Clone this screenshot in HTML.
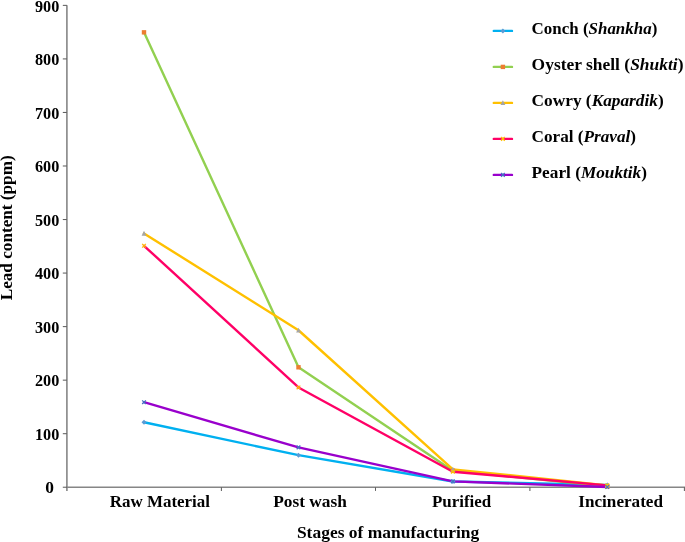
<!DOCTYPE html>
<html><head><meta charset="utf-8"><style>
html,body{margin:0;padding:0;background:#fff;}
svg{display:block;will-change:transform;}
text{font-family:"Liberation Serif",serif;font-weight:bold;fill:#000;}
</style></head><body>
<svg width="685" height="542" viewBox="0 0 685 542">
<g stroke="#868686" stroke-width="1.6" fill="none">
<path d="M66.9 5.2V490.9"/>
<path d="M66 487.23H685"/>
</g>
<g stroke="#606060" stroke-width="1.05" fill="none">
<path d="M62.8 487.23H66.9"/>
<path d="M62.8 433.69H66.9"/>
<path d="M62.8 380.15H66.9"/>
<path d="M62.8 326.61H66.9"/>
<path d="M62.8 273.07H66.9"/>
<path d="M62.8 219.53H66.9"/>
<path d="M62.8 165.99H66.9"/>
<path d="M62.8 112.45H66.9"/>
<path d="M62.8 58.91H66.9"/>
<path d="M62.8 5.37H66.9"/>
<path d="M221.4 487.23V490.9"/>
<path d="M375.5 487.23V490.9"/>
<path d="M529.9 487.23V490.9"/>
<path d="M684.4 487.23V490.9"/>
</g>
<g font-size="17.4" text-anchor="end">
<text x="59.3" y="439.89" textLength="24.3" lengthAdjust="spacingAndGlyphs">100</text>
<text x="59.3" y="386.35" textLength="24.3" lengthAdjust="spacingAndGlyphs">200</text>
<text x="59.3" y="332.81" textLength="24.3" lengthAdjust="spacingAndGlyphs">300</text>
<text x="59.3" y="279.27" textLength="24.3" lengthAdjust="spacingAndGlyphs">400</text>
<text x="59.3" y="225.73" textLength="24.3" lengthAdjust="spacingAndGlyphs">500</text>
<text x="59.3" y="172.19" textLength="24.3" lengthAdjust="spacingAndGlyphs">600</text>
<text x="59.3" y="118.65" textLength="24.3" lengthAdjust="spacingAndGlyphs">700</text>
<text x="59.3" y="65.11" textLength="24.3" lengthAdjust="spacingAndGlyphs">800</text>
<text x="59.3" y="12.30" textLength="24.3" lengthAdjust="spacingAndGlyphs">900</text>
<text x="54" y="493.43">0</text>
</g>
<polyline points="144.00,422.29 298.50,455.16 452.90,481.45 607.30,485.03" fill="none" stroke="#00B0F0" stroke-width="2.4" stroke-linejoin="round" stroke-linecap="round"/>
<polyline points="144.00,32.35 298.50,367.30 452.90,470.63 607.30,486.43" fill="none" stroke="#92D050" stroke-width="2.4" stroke-linejoin="round" stroke-linecap="round"/>
<polyline points="144.00,233.45 298.50,330.25 452.90,469.35 607.30,485.41" fill="none" stroke="#FFC000" stroke-width="2.4" stroke-linejoin="round" stroke-linecap="round"/>
<polyline points="144.00,245.76 298.50,387.43 452.90,471.70 607.30,485.36" fill="none" stroke="#FF0066" stroke-width="2.4" stroke-linejoin="round" stroke-linecap="round"/>
<polyline points="144.00,402.21 298.50,447.40 452.90,481.34 607.30,487.02" fill="none" stroke="#9900CC" stroke-width="2.4" stroke-linejoin="round" stroke-linecap="round"/>
<path d="M144.00 419.79L146.50 422.29L144.00 424.79L141.50 422.29Z" fill="#5B9BD5"/>
<path d="M298.50 452.66L301.00 455.16L298.50 457.66L296.00 455.16Z" fill="#5B9BD5"/>
<path d="M452.90 478.95L455.40 481.45L452.90 483.95L450.40 481.45Z" fill="#5B9BD5"/>
<path d="M607.30 482.53L609.80 485.03L607.30 487.53L604.80 485.03Z" fill="#5B9BD5"/>
<rect x="141.80" y="30.15" width="4.4" height="4.4" fill="#ED7D31"/>
<rect x="296.30" y="365.10" width="4.4" height="4.4" fill="#ED7D31"/>
<rect x="450.70" y="468.43" width="4.4" height="4.4" fill="#ED7D31"/>
<rect x="605.10" y="484.23" width="4.4" height="4.4" fill="#ED7D31"/>
<path d="M144.00 230.85L146.40 235.65L141.60 235.65Z" fill="#A5A5A5"/>
<path d="M298.50 327.65L300.90 332.45L296.10 332.45Z" fill="#A5A5A5"/>
<path d="M452.90 466.75L455.30 471.55L450.50 471.55Z" fill="#A5A5A5"/>
<path d="M607.30 482.81L609.70 487.61L604.90 487.61Z" fill="#A5A5A5"/>
<path d="M142.15 243.91L145.85 247.61M145.85 243.91L142.15 247.61" stroke="#FFC000" stroke-width="1.25" fill="none"/>
<path d="M296.65 385.58L300.35 389.28M300.35 385.58L296.65 389.28" stroke="#FFC000" stroke-width="1.25" fill="none"/>
<path d="M451.05 469.85L454.75 473.55M454.75 469.85L451.05 473.55" stroke="#FFC000" stroke-width="1.25" fill="none"/>
<path d="M605.45 483.51L609.15 487.21M609.15 483.51L605.45 487.21" stroke="#FFC000" stroke-width="1.25" fill="none"/>
<path d="M142.15 400.36L145.85 404.06M145.85 400.36L142.15 404.06" stroke="#4472C4" stroke-width="1.25" fill="none"/>
<path d="M296.65 445.55L300.35 449.25M300.35 445.55L296.65 449.25" stroke="#4472C4" stroke-width="1.25" fill="none"/>
<path d="M451.05 479.49L454.75 483.19M454.75 479.49L451.05 483.19" stroke="#4472C4" stroke-width="1.25" fill="none"/>
<path d="M605.45 485.17L609.15 488.87M609.15 485.17L605.45 488.87" stroke="#4472C4" stroke-width="1.25" fill="none"/>
<text x="109.8" y="507" font-size="17.4" textLength="100.2" lengthAdjust="spacingAndGlyphs">Raw Material</text>
<text x="273.3" y="507" font-size="17.4" textLength="73.6" lengthAdjust="spacingAndGlyphs">Post wash</text>
<text x="432.0" y="507" font-size="17.4" textLength="59.2" lengthAdjust="spacingAndGlyphs">Purified</text>
<text x="578.3" y="507" font-size="17.4" textLength="84.7" lengthAdjust="spacingAndGlyphs">Incinerated</text>
<text x="296.9" y="537.7" font-size="17.4" textLength="182.4" lengthAdjust="spacingAndGlyphs">Stages of manufacturing</text>
<text transform="translate(12.2,300.3) rotate(-90)" x="0" y="0" font-size="17.4" textLength="145" lengthAdjust="spacingAndGlyphs">Lead content (ppm)</text>
<path d="M493.8 30.9H512" stroke="#00B0F0" stroke-width="2.4" stroke-linecap="round"/>
<path d="M502.90 28.40L505.40 30.90L502.90 33.40L500.40 30.90Z" fill="#5B9BD5"/>
<text x="531.6" y="34.3" font-size="17.4" textLength="125.7" lengthAdjust="spacingAndGlyphs">Conch (<tspan font-style="italic">Shankha</tspan>)</text>
<path d="M493.8 66.9H512" stroke="#92D050" stroke-width="2.4" stroke-linecap="round"/>
<rect x="500.70" y="64.70" width="4.4" height="4.4" fill="#ED7D31"/>
<text x="531.6" y="70.3" font-size="17.4" textLength="151.9" lengthAdjust="spacingAndGlyphs">Oyster shell (<tspan font-style="italic">Shukti</tspan>)</text>
<path d="M493.8 102.9H512" stroke="#FFC000" stroke-width="2.4" stroke-linecap="round"/>
<path d="M502.90 100.30L505.30 105.10L500.50 105.10Z" fill="#A5A5A5"/>
<text x="531.6" y="106.3" font-size="17.4" textLength="132.1" lengthAdjust="spacingAndGlyphs">Cowry (<tspan font-style="italic">Kapardik</tspan>)</text>
<path d="M493.8 138.9H512" stroke="#FF0066" stroke-width="2.4" stroke-linecap="round"/>
<path d="M501.05 137.05L504.75 140.75M504.75 137.05L501.05 140.75" stroke="#FFC000" stroke-width="1.25" fill="none"/>
<text x="531.6" y="142.3" font-size="17.4" textLength="104.4" lengthAdjust="spacingAndGlyphs">Coral (<tspan font-style="italic">Praval</tspan>)</text>
<path d="M493.8 174.9H512" stroke="#9900CC" stroke-width="2.4" stroke-linecap="round"/>
<path d="M501.05 173.05L504.75 176.75M504.75 173.05L501.05 176.75" stroke="#4472C4" stroke-width="1.25" fill="none"/>
<text x="531.6" y="178.3" font-size="17.4" textLength="115.4" lengthAdjust="spacingAndGlyphs">Pearl (<tspan font-style="italic">Mouktik</tspan>)</text>
</svg>
</body></html>
